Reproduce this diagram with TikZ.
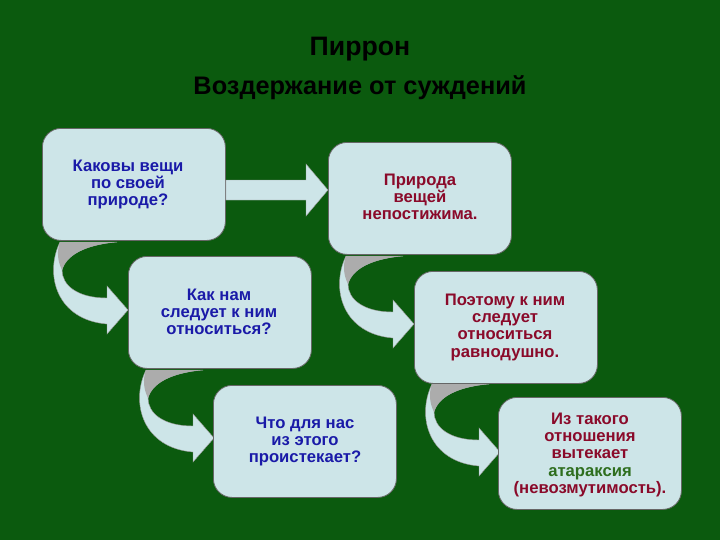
\documentclass[tikz,border=0pt]{standalone}
\usepackage{fontspec}
\setmainfont{Liberation Sans}
\definecolor{bg}{HTML}{0B5A0E}
\definecolor{boxc}{HTML}{CDE5E8}
\definecolor{tblue}{HTML}{1A1AA8}
\definecolor{tred}{HTML}{8A0A2A}
\definecolor{tgreen}{HTML}{2E6E1E}
\begin{document}
\begin{tikzpicture}[x=0.75pt,y=-0.75pt,
  box/.style={draw=black!60,line width=0.6pt,fill=boxc,rounded corners=14pt,minimum width=183*0.75pt,minimum height=112*0.75pt,anchor=north west,inner sep=0pt},
  txt/.style={font=\bfseries\fontsize{12.5}{13}\selectfont,align=center,anchor=north},
  arr/.style={fill=boxc,draw=black!40,line width=0.3pt}]
\fill[bg] (0,0) rectangle (720,540);
\useasboundingbox (0,0) rectangle (720,540);
\node[font=\bfseries\fontsize{20}{24}\selectfont] (t1) at (360,49) {Пиррон};
\node[font=\bfseries\fontsize{19}{24}\selectfont] (t2) at (360,88) {Воздержание от суждений};
% curved arrows
\newcommand{\carrow}[2]{%
\begin{scope}[shift={(#1,#2)}]
\path[arr] (18,2) .. controls (2,35) and (15,80) .. (65,84) -- (65,94) -- (86,70) -- (65,46) -- (65,58) .. controls (35,58) and (20,45) .. (20,30) .. controls (25,12) and (50,4) .. (75,2) -- cycle;
\fill[gray!65] (18,2) -- (75,2) .. controls (50,4) and (25,12) .. (20,30) .. controls (15,20) and (15,10) .. (18,2);
\end{scope}}
\carrow{42}{240}
\carrow{128}{368}
\carrow{328}{254}
\carrow{414}{382}
\node[box] (b1) at (42,128) {};
\node[box] (b2) at (328,142) {};
\node[box] (b3) at (128,256) {};
\node[box] (b4) at (414,271) {};
\node[box] (b5) at (213,385) {};
\node[box] (b6) at (498,397) {};
\path[arr] (b1.east |- 0,180) -- (306,180) -- (306,164) -- (328,190) -- (306,216) -- (306,200) -- (b1.east |- 0,200) -- cycle;
\node[txt,text=tblue] (x1) at (128,155) {Каковы вещи\\по своей\\природе?};
\node[txt,text=tred] (x2) at (420,169) {Природа\\вещей\\непостижима.};
\node[txt,text=tblue] (x3) at (219,284) {Как нам\\следует к ним\\относиться?};
\node[txt,text=tred] (x4) at (505,289) {Поэтому к ним\\следует\\относиться\\равнодушно.};
\node[txt,text=tblue] (x5) at (305,412) {Что для нас\\из этого\\проистекает?};
\node[txt,text=tred] (x6) at (590,408) {Из такого\\отношения\\вытекает\\\textcolor{tgreen}{атараксия}\\(невозмутимость).};
\end{tikzpicture}
\end{document}
